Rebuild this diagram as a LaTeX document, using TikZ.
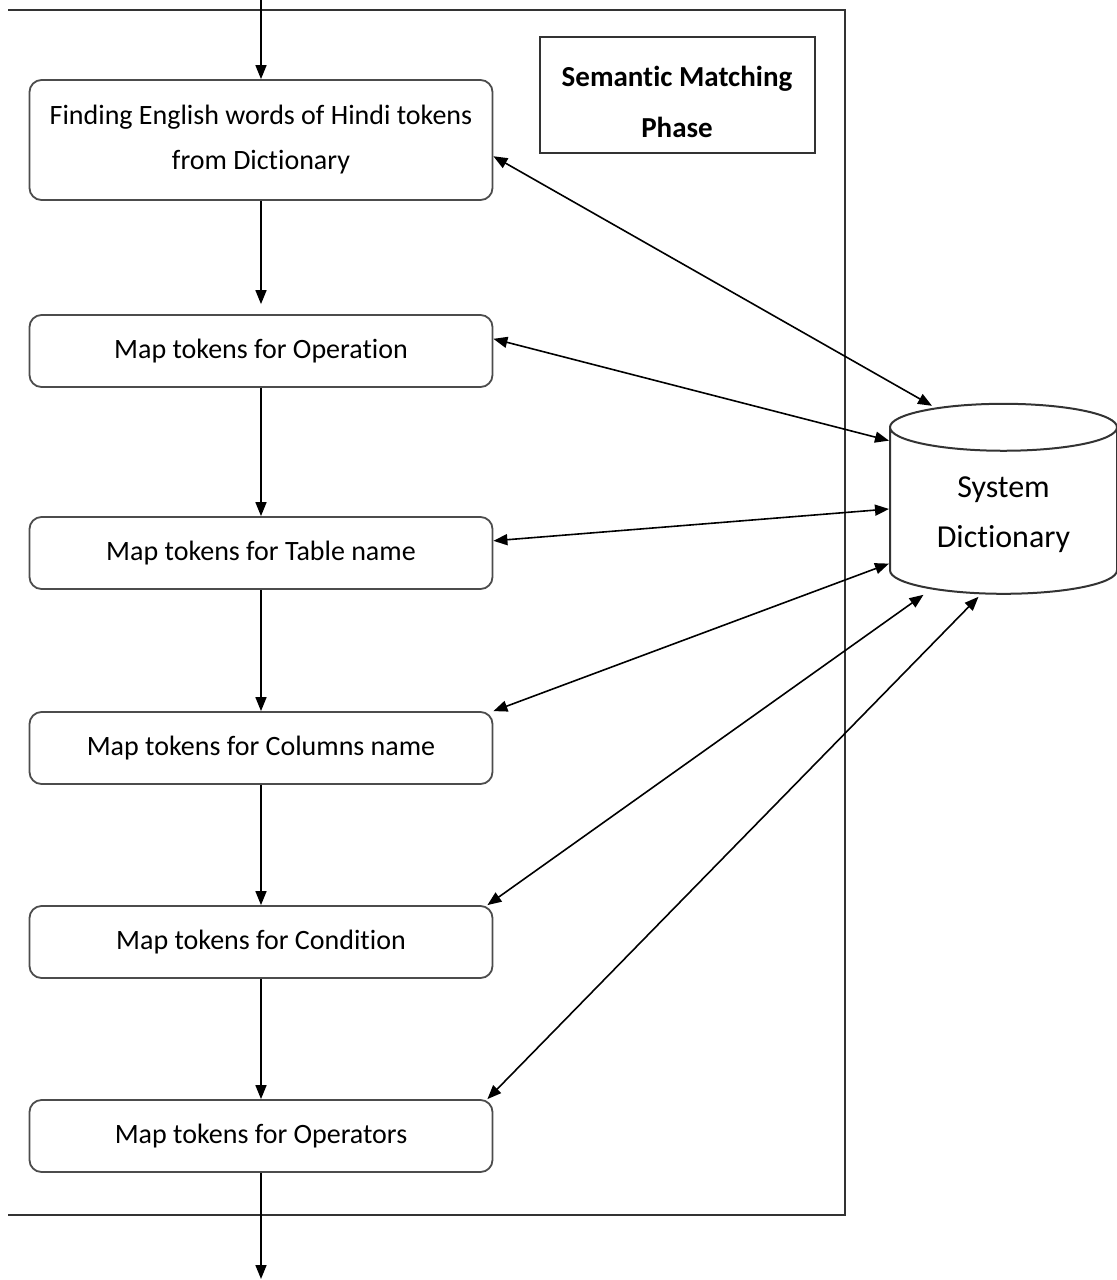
\documentclass[tikz,border=0pt]{standalone}
\usepackage{fontspec}
\setmainfont{Carlito}[Ligatures=CommonOff]
\usetikzlibrary{shapes.geometric, arrows.meta, positioning, calc}

\tikzset{
  stagebox/.style={draw=black!70, line width=0.9pt, rounded corners=6pt, minimum width=231.5pt, minimum height=36pt, align=center, font=\fontsize{14}{22.5}\selectfont},
  flow/.style={-{Triangle[length=7pt,width=5.5pt]}, line width=0.8pt},
  link/.style={{Triangle[length=7pt,width=5.5pt]}-{Triangle[length=7pt,width=5.5pt]}, line width=0.8pt}
}

\begin{document}
\begin{tikzpicture}[x=0.5pt, y=-0.5pt]
  \useasboundingbox (0,0) rectangle (1117,1280);
  % phase frame, open on the left
  \draw[black!80, line width=1pt] (8,10) -- (845,10) -- (845,1215) -- (8,1215);
  \node[draw=black!80, line width=1pt, minimum width=137.5pt, minimum height=58pt, align=center, text height=42.5pt,
        font=\bfseries\fontsize{14.5}{25.5}\selectfont] (phase) at (677,95) {Semantic Matching\\Phase};

  % matching steps
  \node[stagebox, minimum height=60pt] (find) at (261,140) {Finding English words of Hindi tokens\\from Dictionary};
  \node[stagebox] (oper) at (261,351) {Map tokens for Operation};
  \node[stagebox] (tabl) at (261,553) {Map tokens for Table name};
  \node[stagebox] (cols) at (261,748) {Map tokens for Columns name};
  \node[stagebox] (cond) at (261,942) {Map tokens for Condition};
  \node[stagebox] (oprs) at (261,1136) {Map tokens for Operators};

  % dictionary store
  \node[cylinder, shape border rotate=90, draw=black!80, line width=1pt, aspect=0.32,
        minimum width=113.5pt, minimum height=95pt, align=center,
        font=\fontsize{16}{25}\selectfont] (dict) at (1003.5,515) {System\\Dictionary};

  \coordinate (entry) at (261,0);
  \coordinate (exit) at (261,1279);

  \draw[flow] (entry) -- (find.north);
  \draw[flow] (find.south) -- ([yshift=5pt]oper.north);
  \draw[flow] (oper.south) -- (tabl.north);
  \draw[flow] (tabl.south) -- (cols.north);
  \draw[flow] (cols.south) -- (cond.north);
  \draw[flow] (cond.south) -- (oprs.north);
  \draw[flow] (oprs.south) -- (exit);

  \draw[link] (find.-4) -- ($(dict.north)+(-71.5,3)$);
  \draw[link] (oper.3) -- (dict.147);
  \draw[link] (tabl.3) -- (dict.177.5);
  \draw[link] (cols.north east) -- (dict.203.8);
  \draw[link] ([xshift=-3pt]cond.north east) -- ($(dict.south)+(-80,0)$);
  \draw[link] ([xshift=-3pt]oprs.north east) -- ($(dict.south)+(-25,2)$);
\end{tikzpicture}
\end{document}
